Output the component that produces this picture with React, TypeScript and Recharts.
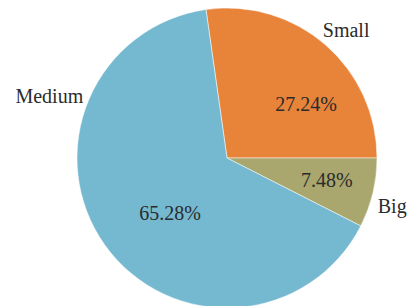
import React from "react";
import { PieChart, Pie, Cell } from "recharts";

const categories = ["Small", "Big", "Medium"];
const values = [27.24, 7.48, 65.28];
const colors = ["#E8833A", "#A9A66E", "#75B9D1"];

// label placement (polar, relative to pie center): [angleDeg, radius]
const namePlacement: Record<string, [number, number]> = {
  Small: [45.5, 170],
  Big: [-18.3, 174],
  Medium: [162.8, 186],
};
const pctPlacement: Record<string, [number, number]> = {
  Small: [30.7, 92],
  Big: [-16.2, 104],
  Medium: [227.4, 84],
};

const data = categories.map((c, i) => ({ name: c, value: values[i] }));
const total = values.reduce((a, b) => a + b, 0);
const startAngle = (values[0] / total) * 360;

const RAD = Math.PI / 180;

const renderLabel = (props: any) => {
  const { cx, cy, name, value } = props;
  const [na, nr] = namePlacement[name];
  const [pa, pr] = pctPlacement[name];
  const nx = cx + nr * Math.cos(na * RAD);
  const ny = cy - nr * Math.sin(na * RAD);
  const px = cx + pr * Math.cos(pa * RAD);
  const py = cy - pr * Math.sin(pa * RAD);
  const pct = ((value / total) * 100).toFixed(2) + "%";
  return (
    <g>
      <text x={nx} y={ny} textAnchor="middle" fontFamily="Liberation Serif" fontSize={20} fill="#2b2b2b">
        {name}
      </text>
      <text x={px} y={py} textAnchor="middle" fontFamily="Liberation Serif" fontSize={20} fill="#2b2b2b">
        {pct}
      </text>
    </g>
  );
};

export default function App() {
  return (
    <div style={{ position: "absolute", left: 0, top: 0, width: 409, height: 306, background: "#fff", fontFamily: "Liberation Serif" }}>
      <PieChart width={409} height={306} margin={{ top: 0, right: 0, bottom: 0, left: 0 }} style={{ fontFamily: "Liberation Serif" }}>
        <Pie
          data={data}
          dataKey="value"
          nameKey="name"
          cx={227}
          cy={158}
          outerRadius={150}
          startAngle={startAngle}
          endAngle={startAngle - 360}
          stroke="#ffffff"
          strokeWidth={0.5}
          label={renderLabel}
          labelLine={false}
          isAnimationActive={false}
        >
          {data.map((d, i) => (
            <Cell key={d.name} fill={colors[i]} />
          ))}
        </Pie>
      </PieChart>
    </div>
  );
}
